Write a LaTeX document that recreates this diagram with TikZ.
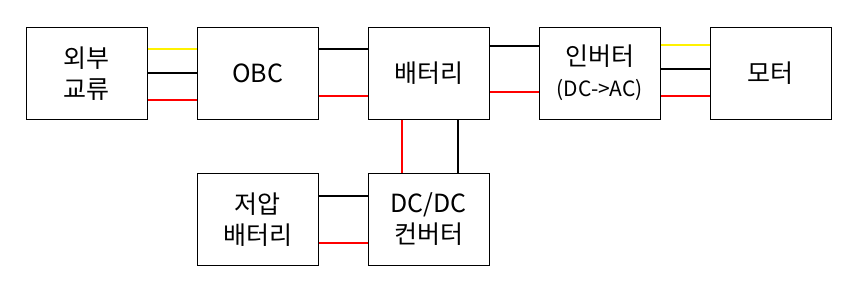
\documentclass[tikz,border=0pt]{standalone}
\usepackage{fontspec}
\setmainfont{Noto Sans CJK KR}
\usepackage{xcolor}
\usepackage{tikz}
\usetikzlibrary{positioning}

\begin{document}
\begin{tikzpicture}[
  node distance=49pt and 49pt,
  box/.style={draw, line width=1pt, minimum width=121pt, minimum height=92pt, align=center, font=\fontsize{25}{31}\selectfont, inner sep=2pt},
  wire/.style={line width=2pt},
  acwire/.style={wire, draw=yellow, line width=2.5pt},
  negwire/.style={wire, draw=black},
  poswire/.style={wire, draw=red}]
  \useasboundingbox (0,0) rectangle (854pt,-283pt);
  % top row
  \node[box] (ext) at (86.8pt,-73.2pt) {외부\\교류};
  \node[box, right=of ext] (obc) {OBC};
  \node[box, right=of obc] (bat) {배터리};
  \node[box, right=of bat] (inv) {인버터\\{\fontsize{21}{25}\selectfont (DC->AC)}};
  \node[box, right=of inv] (mot) {모터};
  % bottom row
  \node[box, below=53pt of bat] (dcdc) {DC/DC\\컨버터};
  \node[box, left=of dcdc] (lvbat) {저압\\배터리};
  % wires
  \draw[acwire]  ([yshift=24pt]ext.east) -- ([yshift=24pt]obc.west);
  \draw[negwire] (ext.east) -- (obc.west);
  \draw[poswire] ([yshift=-26.5pt]ext.east) -- ([yshift=-26.5pt]obc.west);
  \draw[negwire] ([yshift=24pt]obc.east) -- ([yshift=24pt]bat.west);
  \draw[poswire] ([yshift=-23pt]obc.east) -- ([yshift=-23pt]bat.west);
  \draw[negwire] ([yshift=27.5pt]bat.east) -- ([yshift=27.5pt]inv.west);
  \draw[poswire] ([yshift=-19pt]bat.east) -- ([yshift=-19pt]inv.west);
  \draw[acwire]  ([yshift=28pt]inv.east) -- ([yshift=28pt]mot.west);
  \draw[negwire] ([yshift=4pt]inv.east) -- ([yshift=4pt]mot.west);
  \draw[poswire] ([yshift=-23pt]inv.east) -- ([yshift=-23pt]mot.west);
  \draw[poswire] ([xshift=-27pt]bat.south) -- ([xshift=-27pt]dcdc.north);
  \draw[negwire] ([xshift=29pt]bat.south) -- ([xshift=29pt]dcdc.north);
  \draw[negwire] ([yshift=23.5pt]lvbat.east) -- ([yshift=23.5pt]dcdc.west);
  \draw[poswire] ([yshift=-23.5pt]lvbat.east) -- ([yshift=-23.5pt]dcdc.west);
\end{tikzpicture}
\end{document}
